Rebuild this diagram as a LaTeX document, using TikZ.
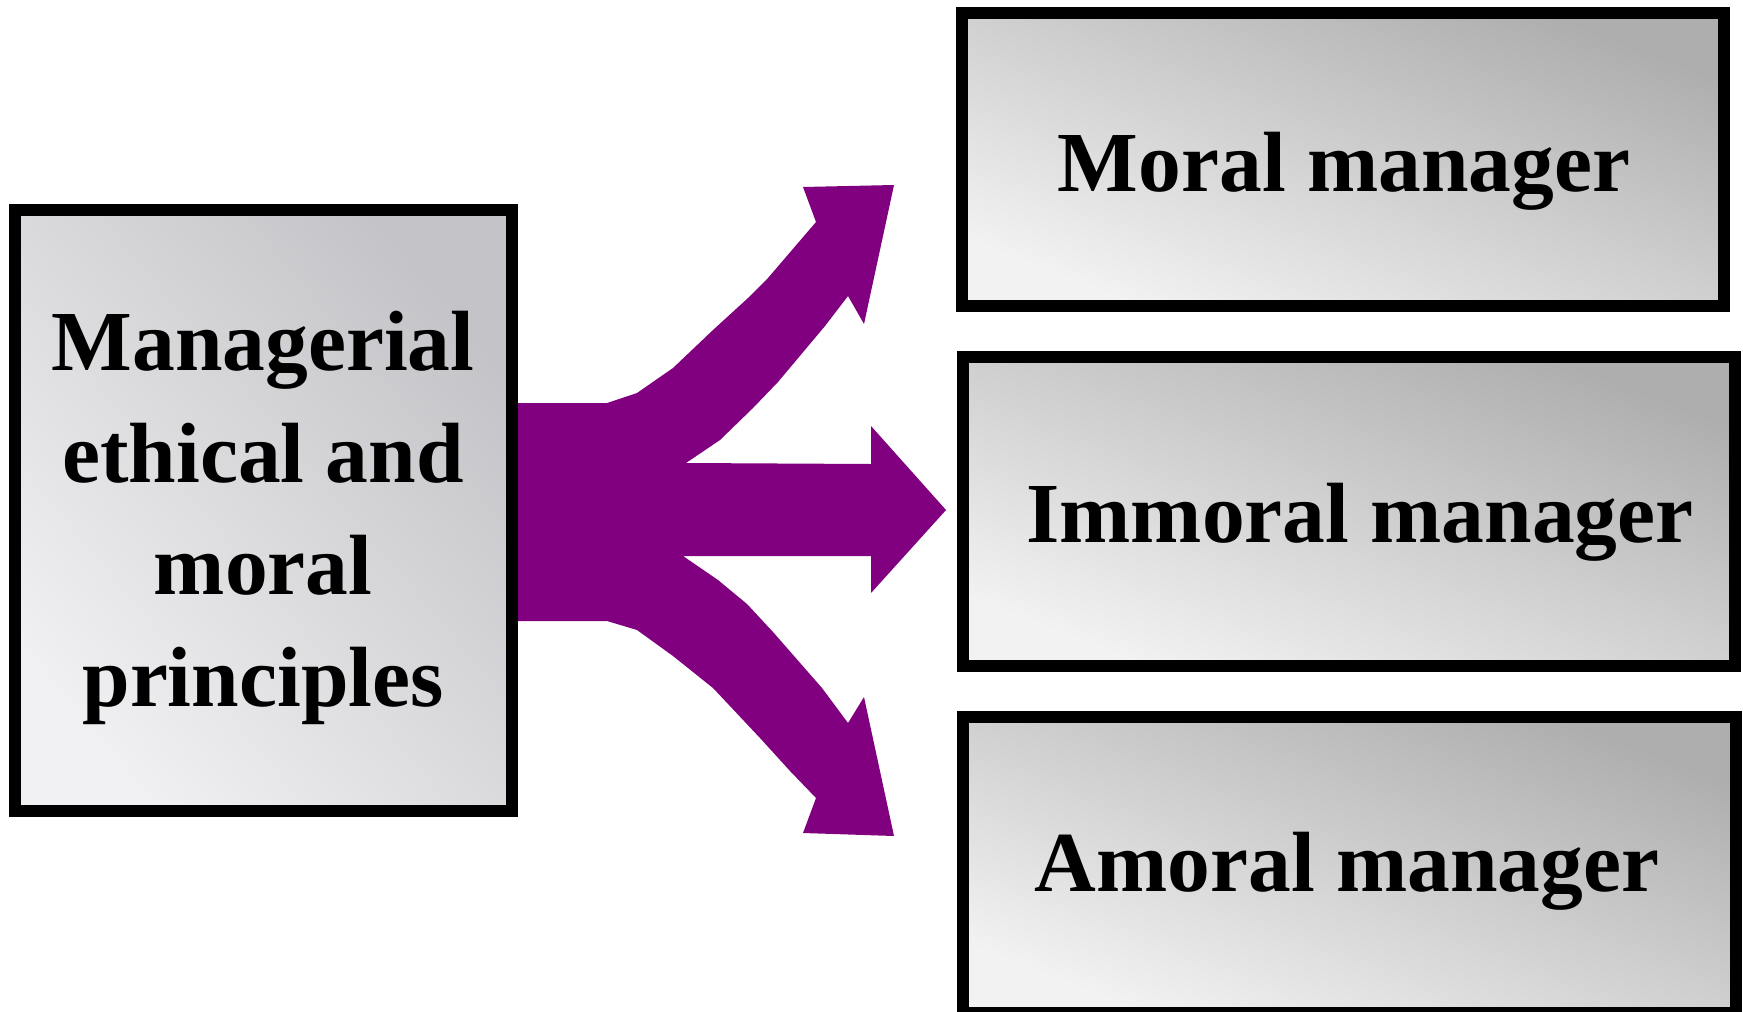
\documentclass[tikz,border=0pt]{standalone}
\usepackage{fontspec}
\setmainfont{Liberation Serif}
\definecolor{forkpurple}{HTML}{800080}
\definecolor{srcdark}{HTML}{C4C4C8}
\definecolor{srclight}{HTML}{F0F0F2}
\definecolor{typedark}{HTML}{AEAEAE}
\definecolor{typelight}{HTML}{F2F2F2}
\tikzset{
  framebox/.style={draw=black, line width=6pt, rectangle, inner sep=0pt},
  srcbox/.style={framebox, top color=srcdark, bottom color=srclight,
    shading angle=-50},
  typebox/.style={framebox, top color=typedark, bottom color=typelight,
    shading angle=-21},
  boxtext/.style={inner sep=0pt, text=black,
    font=\fontsize{42.75pt}{56pt}\selectfont\bfseries},
  fork/.style={fill=forkpurple, draw=none}
}
\begin{document}
\begin{tikzpicture}[x=0.5pt, y=-0.5pt]
  \useasboundingbox (0,0) rectangle (1743,1011);

  % three-way fork arrow from the principles box to the manager types
  \fill[fork] (512,403) -- (607,403) -- (637,393) -- (673,368) -- (713,330)
    -- (748,298) -- (768,278) -- (816,222) -- (803,187) -- (894,185)
    -- (864,324) -- (848,296) -- (825,326) -- (778,382) -- (753,408)
    -- (720,440) -- (686,463)
    -- (871,464) -- (871,426) -- (946,510) -- (871,593) -- (871,556)
    -- (683,556)
    -- (718,580) -- (747,604) -- (773,632) -- (822,688) -- (848,723)
    -- (864,697) -- (894,836) -- (803,833) -- (816,798) -- (790,771)
    -- (760,738) -- (713,688) -- (673,656) -- (637,630) -- (607,621)
    -- (512,621) -- cycle;

  % source box
  \node[srcbox, minimum width=248.85pt, minimum height=300.65pt]
    (src) at (263.35,510.65) {};
  \node[boxtext, align=center] (srctext) at (263,518.4)
    {Managerial\\ethical and\\moral\\principles};

  % manager type boxes
  \node[typebox, minimum width=381pt, minimum height=146.5pt]
    (moral) at (1343,159.5) {};
  \node[typebox, minimum width=386pt, minimum height=154.65pt]
    (immoral) at (1349,511.35) {};
  \node[typebox, minimum width=386.5pt, minimum height=147.9pt]
    (amoral) at (1349.5,864.6) {};

  \node[boxtext, anchor=base] (moraltext) at (1344,191) {Moral manager};
  \node[boxtext, anchor=base] (immoraltext) at (1360,542.7) {Immoral manager};
  \node[boxtext, anchor=base] (amoraltext) at (1347,891.7) {Amoral manager};
\end{tikzpicture}
\end{document}
